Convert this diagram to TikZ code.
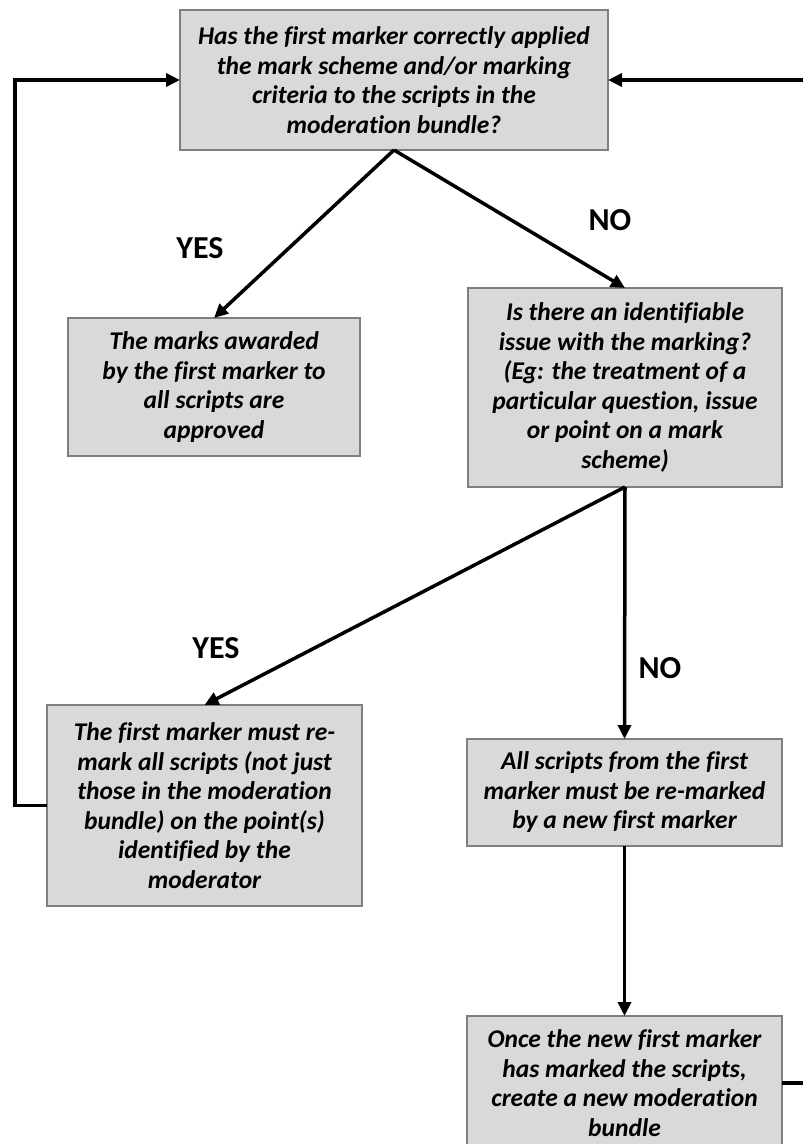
\documentclass[tikz,border=0pt]{standalone}
\usepackage{fontspec}
\setmainfont[Ligatures=NoCommon]{Carlito}
\usetikzlibrary{arrows.meta}
\definecolor{mdfill}{HTML}{D9D9D9}
\definecolor{mdedge}{HTML}{7F7F7F}

\begin{document}
\begin{tikzpicture}[
  x=1pt, y=-1pt,
  every node/.style={inner sep=0pt, outer sep=0pt, text=black},
  bx/.style={draw=mdedge, line width=1.5pt, fill=mdfill, align=center,
             font=\fontsize{25.5}{29.5}\selectfont\bfseries\itshape},
  flow/.style={draw=black, line width=3.5pt, -{Triangle[length=14pt,width=13pt]}},
  ans/.style={font=\fontsize{32}{34}\selectfont\bfseries},
]
\useasboundingbox (0,0) rectangle (803,1144);
\clip (0,0) rectangle (803,1144);

% ---------- boxes ----------
\node[bx, minimum width=428, minimum height=140] (check) at (394,80)
  {Has the first marker correctly applied\\ the mark scheme and/or marking\\
   criteria to the scripts in the\\ moderation bundle?};
\node[bx, minimum width=292, minimum height=138] (approved) at (214,387)
  {The marks awarded\\ by the first marker to\\ all scripts are\\ approved};
\node[bx, minimum width=314, minimum height=199] (issue) at (625,387.5)
  {Is there an identifiable\\ issue with the marking?\\ (Eg: the treatment of a\\
   particular question, issue\\ or point on a mark\\ scheme)};
\node[bx, minimum width=315, minimum height=201] (remark) at (204.5,805.5)
  {The first marker must re-\\ mark all scripts (not just\\ those in the moderation\\
   bundle) on the point(s)\\ identified by the\\ moderator};
\node[bx, minimum width=315, minimum height=107] (newmark) at (624.5,792.5)
  {All scripts from the first\\ marker must be re-marked\\ by a new first marker};
\node[bx, minimum width=315, minimum height=134] (newbundle) at (624.5,1083)
  {Once the new first marker\\ has marked the scripts,\\ create a new moderation\\ bundle};

% ---------- answers ----------
\node[ans] (yesA) at (200,248) {YES};
\node[ans] (noA)  at (610,220) {NO};
\node[ans] (yesB) at (216,648) {YES};
\node[ans] (noB)  at (660,668) {NO};

% ---------- connectors ----------
\draw[flow] (check.south) -- (approved.north);
\draw[flow] (check.south) -- (issue.north);
\draw[flow] (issue.south) -- (remark.north);
\draw[flow] (issue.south) -- (newmark.north);
\draw[flow] (newmark.south) -- (newbundle.north);
\draw[flow] (remark.west) -- ++(-32,0) |- (check.west);
\draw[flow] (newbundle.east) -- ++(40,0) |- (check.east);

\end{tikzpicture}
\end{document}
